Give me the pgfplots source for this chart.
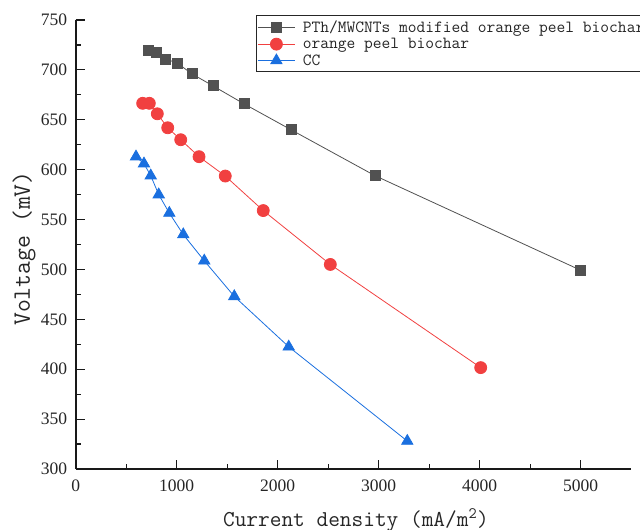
\documentclass[border=0pt]{standalone}
\usepackage{fontspec}
\setmainfont{Liberation Serif}
\usepackage{pgfplots}
\pgfplotsset{compat=1.18}
\definecolor{cblk}{HTML}{515151}
\definecolor{cred}{HTML}{F14040}
\definecolor{cblu}{HTML}{1A6FDF}
\begin{document}
\begin{tikzpicture}
\begin{axis}[
  at={(75.7pt,61pt)}, anchor=south west,
  scale only axis, width=555.5pt, height=449pt,
  xmin=0, xmax=5500, ymin=300, ymax=750,
  axis x line=bottom, axis y line=left,
  axis line style={-, line width=1.6pt, black!90},
  xtick={0,1000,...,5000}, ytick={300,350,...,750},
  minor x tick num=1, minor y tick num=1,
  tick align=inside, major tick length=9pt, minor tick length=5pt,
  every tick/.style={black!90, line width=1.2pt},
  tick label style={font=\rmfamily\fontsize{17.5}{20}\selectfont, text=black!85},
  /pgf/number format/assume math mode=true,
  /pgf/number format/1000 sep={},
  xticklabel style={yshift=-7pt},
  yticklabel style={xshift=-5pt},
  xlabel={Current density (mA/m\textsuperscript{2})},
  ylabel={Voltage (mV)},
  every axis x label/.style={at={(axis description cs:0.5046,-0.1270)}, anchor=base, font=\ttfamily\fontsize{22.7}{26}\selectfont, text=black!85},
  every axis y label/.style={at={(axis description cs:-0.0823,0.491)}, rotate=90, anchor=base, font=\ttfamily\fontsize{25}{28}\selectfont, text=black!85},
  legend style={at={(axis description cs:0.3246,1.0111)}, anchor=north west,
    draw=black!85, line width=1pt, font=\ttfamily\fontsize{17}{20}\selectfont,
    inner xsep=1pt, inner ysep=3pt, row sep=0.4pt, cells={anchor=west}, text=black!85,
    /tikz/every odd column/.style={column sep=5.5pt}},
  legend image code/.code={\draw[mark repeat=2, mark phase=2, line width=0.8pt, #1] plot coordinates {(0pt,0pt) (18.5pt,0pt) (37pt,0pt)};},
  clip=false,
]
\addplot[cblk, line width=0.8pt, mark=square*, mark size=5pt, mark options={fill=cblk, draw=cblk}] coordinates {
(716,719.2) (795,717.2) (884,711) (1003,707) (1151,696) (1359,684) (1666,666) (2132,640) (2963,594) (4993,499.5)};
\addlegendentry{PTh/MWCNTs modified orange peel biochar}
\addplot[cred, line width=0.8pt, mark=*, mark size=6pt, mark options={fill=cred, draw=cred}] coordinates {
(663,666.5) (729,666.5) (808,656) (911,642) (1040,630) (1221,613) (1481,593.6) (1857,559) (2521,505) (4010,401.6)};
\addlegendentry{orange peel biochar}
\addplot[cblu, line width=0.8pt, mark=triangle*, mark size=6.5pt, mark options={fill=cblu, draw=cblu}] coordinates {
(597,613) (676,606) (743,594) (822,575) (927,556.5) (1065,535) (1273,508.7) (1570,473) (2109,422.5) (3283,328)};
\addlegendentry{CC}
\end{axis}
\pgfresetboundingbox
\useasboundingbox (0,0) rectangle (640pt,530pt);
\end{tikzpicture}
\end{document}
